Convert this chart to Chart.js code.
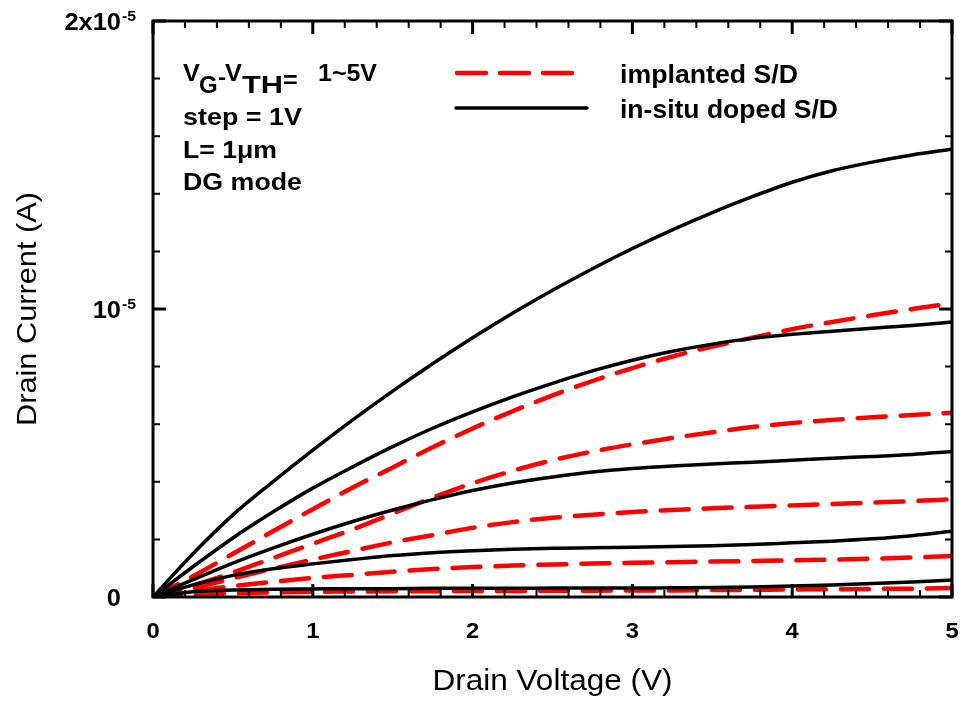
<!DOCTYPE html>
<html>
<head>
<meta charset="utf-8">
<script src="https://cdn.jsdelivr.net/npm/chart.js@4/dist/chart.umd.min.js"></script>
<style>
  html, body { margin: 0; padding: 0; background: #ffffff; }
  canvas { display: block; }
</style>
</head>
<body>
<canvas id="c" width="964" height="703"></canvas>
<script>
// ---- data (drain voltage in V, drain current in microamps) ----
const drainVoltage = [0, 0.25, 0.5, 0.75, 1, 1.25, 1.5, 1.75, 2, 2.25, 2.5, 2.75, 3, 3.25, 3.5, 3.75, 4, 4.25, 4.5, 4.75, 5];

// in-situ doped S/D, VG-VTH = 1..5 V (uA)
const insitu1 = [0, 0.18, 0.24, 0.27, 0.28, 0.29, 0.29, 0.30, 0.30, 0.30, 0.31, 0.31, 0.31, 0.32, 0.33, 0.35, 0.38, 0.42, 0.47, 0.52, 0.59];
const insitu2 = [0, 0.42, 0.75, 0.98, 1.15, 1.30, 1.44, 1.54, 1.61, 1.66, 1.69, 1.71, 1.73, 1.75, 1.78, 1.82, 1.88, 1.94, 2.02, 2.13, 2.28];
const insitu3 = [0, 0.60, 1.18, 1.70, 2.18, 2.62, 3.02, 3.38, 3.70, 3.96, 4.17, 4.34, 4.46, 4.55, 4.62, 4.68, 4.75, 4.82, 4.88, 4.95, 5.05];
const insitu4 = [0, 1.05, 2.05, 2.95, 3.78, 4.52, 5.22, 5.86, 6.43, 6.95, 7.42, 7.85, 8.22, 8.53, 8.78, 8.98, 9.12, 9.23, 9.33, 9.43, 9.55];
const insitu5 = [0, 1.50, 2.85, 4.00, 5.10, 6.15, 7.15, 8.10, 9.00, 9.85, 10.65, 11.40, 12.10, 12.75, 13.35, 13.90, 14.40, 14.80, 15.10, 15.35, 15.55];

// implanted S/D, VG-VTH = 1..5 V (uA)
const implanted1 = [0, 0.08, 0.13, 0.16, 0.18, 0.19, 0.20, 0.20, 0.21, 0.21, 0.22, 0.22, 0.23, 0.23, 0.24, 0.25, 0.26, 0.27, 0.28, 0.29, 0.31];
const implanted2 = [0, 0.20, 0.38, 0.53, 0.66, 0.77, 0.88, 0.97, 1.04, 1.09, 1.13, 1.16, 1.19, 1.21, 1.23, 1.25, 1.27, 1.30, 1.33, 1.37, 1.42];
const implanted3 = [0, 0.30, 0.65, 0.98, 1.30, 1.60, 1.90, 2.15, 2.40, 2.60, 2.75, 2.86, 2.95, 3.02, 3.08, 3.13, 3.18, 3.23, 3.28, 3.33, 3.39];
const implanted4 = [0, 0.40, 0.85, 1.35, 1.85, 2.35, 2.90, 3.45, 3.95, 4.38, 4.75, 5.05, 5.30, 5.52, 5.72, 5.90, 6.04, 6.15, 6.24, 6.32, 6.40];
const implanted5 = [0, 0.72, 1.50, 2.28, 3.05, 3.80, 4.50, 5.20, 5.85, 6.45, 7.00, 7.50, 7.95, 8.35, 8.70, 9.00, 9.30, 9.55, 9.78, 10.00, 10.20];

// ticks
const xTickValues = [0, 1, 2, 3, 4, 5];
const xTickLabels = ['0', '1', '2', '3', '4', '5'];
const yTickValues = [0, 1e-5, 2e-5];
const yTickBase = ['0', '10', '2x10'];
const yTickSup = ['', '-5', '-5'];

const xTitle = 'Drain Voltage (V)';
const yTitle = 'Drain Current (A)';
const legendLabels = ['implanted S/D', 'in-situ doped S/D'];

// ---- build datasets ----
const UA = 1e-6;
function pts(arr) { return drainVoltage.map((x, i) => ({ x: x, y: arr[i] * UA })); }
const solidStyle = { borderColor: '#000000', borderWidth: 3.5, borderDash: [], pointRadius: 0, fill: false, cubicInterpolationMode: 'monotone', borderJoinStyle: 'round', borderCapStyle: 'round' };
const dashStyle = { borderColor: '#ff0000', borderWidth: 4.5, borderDash: [28, 15], pointRadius: 0, fill: false, cubicInterpolationMode: 'monotone', borderJoinStyle: 'round', borderCapStyle: 'round' };

const datasets = [];
[insitu1, insitu2, insitu3, insitu4, insitu5].forEach((a, i) => datasets.push(Object.assign({ label: 'in-situ ' + (i + 1), data: pts(a) }, solidStyle)));
[implanted1, implanted2, implanted3, implanted4, implanted5].forEach((a, i) => datasets.push(Object.assign({ label: 'implanted ' + (i + 1), data: pts(a) }, dashStyle)));

const FONT = '"Liberation Sans", Arial, Helvetica, sans-serif';

function txt(ctx, s, x, y, size, weight, opts) {
  opts = opts || {};
  ctx.save();
  ctx.font = weight + ' ' + size + 'px ' + FONT;
  ctx.textBaseline = 'alphabetic';
  ctx.textAlign = 'left';
  ctx.fillStyle = '#000000';
  const w = ctx.measureText(s).width;
  const sx = opts.width ? opts.width / w : (opts.sx || 1);
  const ww = w * sx;
  ctx.translate(x, y);
  if (opts.rot) ctx.rotate(opts.rot);
  let x0 = 0;
  if (opts.align === 'right') x0 = -ww;
  else if (opts.align === 'center') x0 = -ww / 2;
  ctx.translate(x0, 0);
  ctx.scale(sx, 1);
  ctx.fillText(s, 0, 0);
  ctx.restore();
  return ww;
}

const decorPlugin = {
  id: 'decor',
  afterDraw(chart) {
    const ctx = chart.ctx;
    const a = chart.chartArea;
    const xs = chart.scales.x, ys = chart.scales.y;
    ctx.save();
    ctx.strokeStyle = '#000000';
    ctx.lineCap = 'butt';

    // ticks (inward, all four sides)
    const xMinorStep = 0.2, yMinorStep = 2e-6;
    for (let i = 0; i <= 25; i++) {
      const v = i * xMinorStep;
      const px = xs.getPixelForValue(v);
      const major = Math.abs(v - Math.round(v)) < 1e-9;
      const len = major ? 13 : 7;
      ctx.lineWidth = major ? 3 : 2;
      ctx.beginPath();
      ctx.moveTo(px, a.bottom); ctx.lineTo(px, a.bottom - len);
      ctx.moveTo(px, a.top); ctx.lineTo(px, a.top + len);
      ctx.stroke();
    }
    for (let i = 0; i <= 10; i++) {
      const v = i * yMinorStep;
      const py = ys.getPixelForValue(v);
      const major = (i % 5) === 0;
      const len = major ? 13 : 7;
      ctx.lineWidth = major ? 3 : 2;
      ctx.beginPath();
      ctx.moveTo(a.left, py); ctx.lineTo(a.left + len, py);
      ctx.moveTo(a.right, py); ctx.lineTo(a.right - len, py);
      ctx.stroke();
    }
    // frame
    ctx.lineWidth = 3;
    ctx.lineJoin = 'miter';
    ctx.strokeRect(a.left, a.top, a.right - a.left, a.bottom - a.top);
    ctx.restore();

    // x tick labels
    xTickValues.forEach((v, i) => {
      txt(ctx, xTickLabels[i], xs.getPixelForValue(v), 638, 22, 'bold', { align: 'center', sx: 1.08 });
    });
    // y tick labels with superscripts
    yTickValues.forEach((v, i) => {
      const py = ys.getPixelForValue(v) + 9;
      txt(ctx, yTickBase[i], 121, py, 24, 'bold', { align: 'right', sx: 1.06 });
      if (yTickSup[i]) txt(ctx, yTickSup[i], 122, py - 9, 15, 'bold', { sx: 1.05 });
    });

    // axis titles
    txt(ctx, xTitle, (a.left + a.right) / 2, 690, 30, 'normal', { align: 'center', width: 240 });
    txt(ctx, yTitle, 36, (a.top + a.bottom) / 2, 28, 'normal', { align: 'center', width: 234, rot: -Math.PI / 2 });

    // annotation
    txt(ctx, 'V', 183, 81, 23, 'bold', { sx: 1.1 });
    txt(ctx, 'G', 199, 93, 24, 'bold', { sx: 1.0 });
    txt(ctx, '-', 218, 84, 22, 'bold', { sx: 1.1 });
    txt(ctx, 'V', 225, 81, 23, 'bold', { sx: 1.1 });
    txt(ctx, 'TH', 242, 93, 24, 'bold', { width: 41 });
    txt(ctx, '=', 283, 88, 24, 'bold', { sx: 1.05 });
    txt(ctx, '1~5V', 318, 81, 23, 'bold', { width: 59 });
    txt(ctx, 'step = 1V', 183, 125, 24, 'bold', { width: 119 });
    txt(ctx, 'L= 1\u03bcm', 183, 158, 24, 'bold', { width: 94 });
    txt(ctx, 'DG mode', 183, 190, 24, 'bold', { width: 119 });

    // legend
    ctx.save();
    ctx.strokeStyle = '#ff0000';
    ctx.lineWidth = 4.5;
    ctx.lineCap = 'round';
    ctx.setLineDash([29, 14]);
    ctx.beginPath(); ctx.moveTo(457, 73); ctx.lineTo(573, 73); ctx.stroke();
    ctx.setLineDash([]);
    ctx.strokeStyle = '#000000';
    ctx.lineWidth = 3.5;
    ctx.beginPath(); ctx.moveTo(456, 108); ctx.lineTo(587, 108); ctx.stroke();
    ctx.restore();
    txt(ctx, legendLabels[0], 620, 83, 26, 'bold', { width: 178 });
    txt(ctx, legendLabels[1], 620, 118, 26, 'bold', { width: 218 });
  }
};

new Chart(document.getElementById('c'), {
  type: 'line',
  data: { datasets: datasets },
  options: {
    responsive: false,
    devicePixelRatio: 1,
    animation: false,
    layout: { padding: { left: 0, right: 12, top: 21, bottom: 0 } },
    plugins: { legend: { display: false }, tooltip: { enabled: false } },
    scales: {
      x: {
        type: 'linear', min: 0, max: 5,
        grid: { display: false }, border: { display: false },
        ticks: { display: false },
        afterFit(s) { s.height = 106; }
      },
      y: {
        type: 'linear', min: 0, max: 2e-5,
        grid: { display: false }, border: { display: false },
        ticks: { display: false },
        afterFit(s) { s.width = 153; }
      }
    }
  },
  plugins: [decorPlugin]
});
</script>
</body>
</html>
